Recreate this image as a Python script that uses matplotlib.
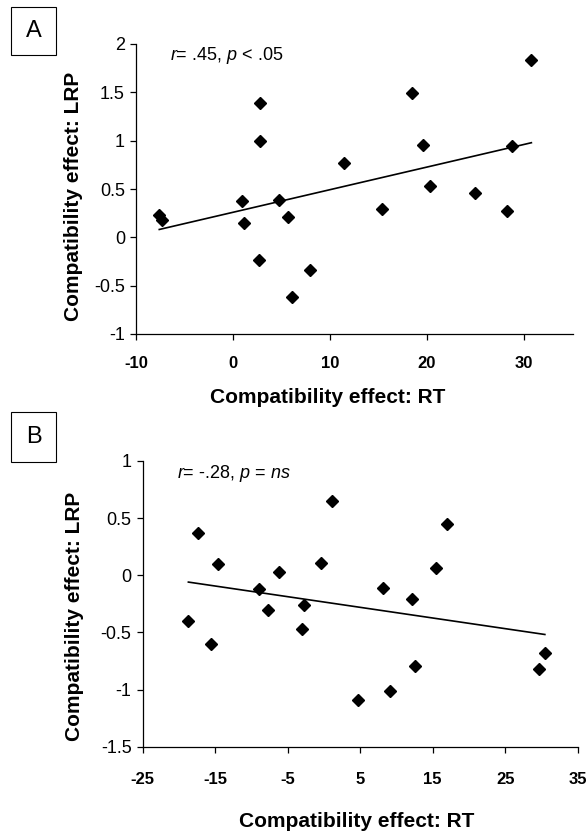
import numpy as np
import matplotlib
matplotlib.use("Agg")
import matplotlib.pyplot as plt
from matplotlib.patches import Rectangle

plt.rcParams['font.family'] = ['Liberation Sans', 'DejaVu Sans']
plt.rcParams['mathtext.fontset'] = 'custom'
plt.rcParams['mathtext.rm'] = 'Liberation Sans'
plt.rcParams['mathtext.it'] = 'Liberation Sans:italic'

# Panel A : RT effect vs LRP effect
a_rt = [-7.6, -7.35, 0.96, 1.13, 2.82, 2.82, 2.71, 4.74, 5.67, 6.08,
        7.97, 11.48, 15.36, 18.49, 19.59, 20.3, 24.9, 28.28, 28.8, 30.76]
a_lrp = [0.23, 0.18, 0.376, 0.145, 1.39, 1.0, -0.23, 0.386, 0.207, -0.617,
         -0.334, 0.766, 0.29, 1.49, 0.96, 0.53, 0.46, 0.27, 0.95, 1.83]
a_xticks = [-10, 0, 10, 20, 30]
a_yticks = [-1, -0.5, 0, 0.5, 1, 1.5, 2]
a_note = '$r$= .45, $p$ < .05'

# Panel B
b_rt = [-18.7, -17.33, -15.63, -14.61, -8.92, -7.72, -6.2, -3.08, -2.76, -0.41,
        1.15, 4.64, 8.13, 9.05, 12.18, 12.55, 15.4, 17.0, 29.6, 30.47]
b_lrp = [-0.40, 0.374, -0.605, 0.097, -0.122, -0.302, 0.03, -0.466, -0.262, 0.108,
         0.65, -1.092, -0.107, -1.013, -0.209, -0.795, 0.068, 0.452, -0.824, -0.678]
b_xticks = [-25, -15, -5, 5, 15, 25, 35]
b_yticks = [-1.5, -1, -0.5, 0, 0.5, 1]
b_note = '$r$= -.28, $p$ = $ns$'

W, H = 587, 831
fig = plt.figure(figsize=(W / 100, H / 100), dpi=100)


def px_axes(x0, y0, x1, y1):
    # pixel box (top-left origin) -> figure fraction
    return fig.add_axes([x0 / W, 1 - y1 / H, (x1 - x0) / W, (y1 - y0) / H])


def letter_box(x0, y0, x1, y1, letter):
    fig.patches.append(Rectangle((x0 / W, 1 - y1 / H), (x1 - x0) / W, (y1 - y0) / H,
                                 transform=fig.transFigure, fill=False,
                                 ec='black', lw=0.8))
    fig.text((x0 + x1) / 2 / W, 1 - (y0 + y1) / 2 / H, letter, fontsize=17,
             ha='center', va='center')


def panel(ax, x, y, xlim, ylim, xt, yt, note, note_px, xpad, ypad, lab_pos):
    ax.plot(x, y, 'D', color='black', markersize=6.5, zorder=3)
    k, b = np.polyfit(x, y, 1)
    xs = np.array([min(x), max(x)])
    ax.plot(xs, k * xs + b, color='black', lw=1.2)
    ax.set_xlim(xlim)
    ax.set_ylim(ylim)
    ax.set_xticks(xt)
    ax.set_yticks(yt)
    ax.set_xticklabels([f'{v:g}' for v in xt], fontsize=12, fontweight='bold')
    ax.set_yticklabels([f'{v:g}' for v in yt], fontsize=13)
    for s in ['top', 'right']:
        ax.spines[s].set_visible(False)
    for s in ['left', 'bottom']:
        ax.spines[s].set_linewidth(0.9)
    ax.tick_params(direction='out', length=4, width=0.9, pad=4)
    ax.tick_params(axis='x', pad=xpad[0])
    ax.set_xlabel('Compatibility effect: RT', fontsize=15, fontweight='bold',
                  labelpad=xpad[1])
    ax.set_ylabel('Compatibility effect: LRP', fontsize=15, fontweight='bold',
                  labelpad=ypad)
    ax.xaxis.label.set_x(lab_pos[0])
    ax.yaxis.label.set_y(lab_pos[1])
    fig.text(note_px[0] / W, 1 - note_px[1] / H, note, fontsize=13,
             va='center', ha='left')


ax1 = px_axes(136, 44, 572.5, 334)
panel(ax1, a_rt, a_lrp, (-10, 35), (-1, 2), a_xticks, a_yticks, a_note,
      (170, 56), (12, 12), 8, (0.44, 0.476))
letter_box(11, 7, 56, 55, 'A')

ax2 = px_axes(142.7, 461, 577.7, 746.7)
panel(ax2, b_rt, b_lrp, (-25, 35), (-1.5, 1), b_xticks, b_yticks, b_note,
      (177, 473), (14, 18), 12, (0.493, 0.457))
letter_box(11, 412, 56, 462, 'B')

fig.savefig('out.png', dpi=100)
